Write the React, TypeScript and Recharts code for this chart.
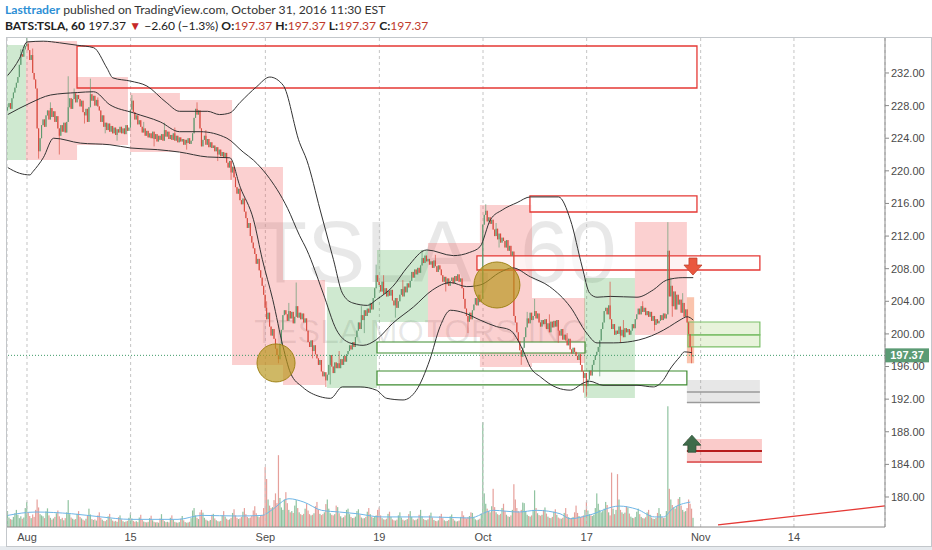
import React from 'react'
import {
  ComposedChart,
  Bar,
  Line,
  XAxis,
  YAxis,
  CartesianGrid,
  ReferenceArea,
  ReferenceLine,
  ReferenceDot
} from 'recharts'

// hourly bars, index 0 = Jul 28 10:30, 7 bars per session
const X_DOMAIN: [number, number] = [-0.5, 592.5]
const Y_DOMAIN: [number, number] = [176.32, 236.29]
const VOL_DOMAIN: [number, number] = [0, 16000]

const dateTicks = [13, 83, 174, 251, 321, 391, 468, 531]
const dateLabels = ['Aug', '15', 'Sep', '19', 'Oct', '17', 'Nov', '14']
const priceTicks = [180, 184, 188, 192, 196, 200, 204, 208, 212, 216, 220, 224, 228, 232]

const lastPrice = 197.37
const firstOpen = 227.4

const closes = [
  227.8, 228.3, 227.6, 228.9, 229.6, 230.2, // Jul 28
  230.8, 231.5, 233.0, 234.3, 234.0, 234.9, 235.3, // Jul 29
  235.6, 234.8, 233.6, 234.2, 232.0, 231.2, 230.1, // Aug 1
  225.2, 222.4, 224.0, 225.6, 226.3, 225.4, 226.8,
  227.4, 226.3, 227.7, 226.6, 227.3, 226.0, 226.7,
  225.2, 224.3, 225.6, 224.8, 225.9, 224.7, 226.0,
  227.8, 228.9, 227.6, 228.8, 229.5, 228.4, 229.3,
  228.8, 227.9, 228.6, 227.2, 226.8, 227.6, 226.0, // Aug 8
  227.8, 229.4, 228.6, 229.2, 228.0, 228.7, 227.9,
  227.4, 226.0, 226.8, 225.4, 225.9, 225.0, 225.8,
  224.8, 225.5, 224.6, 225.3, 224.4, 225.1, 224.7,
  225.4, 224.6, 225.2, 224.5, 225.6, 224.9, 225.3,
  227.5, 228.6, 227.2, 226.3, 226.8, 225.7, 226.2, // Aug 15
  225.4, 224.7, 225.2, 224.3, 224.9, 224.1, 224.6,
  224.0, 224.8, 223.9, 224.5, 223.6, 224.3, 223.8,
  224.5, 223.7, 225.0, 224.2, 224.8, 223.9, 224.4,
  223.8, 224.6, 223.7, 224.3, 223.5, 224.1, 223.6,
  223.9, 223.2, 223.8, 223.4, 224.0, 223.3, 223.7, // Aug 22
  224.6, 226.5, 227.6, 226.9, 227.4, 225.2, 223.0,
  223.8, 224.3, 223.2, 223.9, 222.9, 223.5, 222.8,
  223.1, 222.4, 222.9, 222.0, 222.6, 221.8, 222.3,
  221.6, 222.2, 221.0, 220.4, 221.2, 219.8, 220.5,
  219.2, 218.0, 217.2, 217.8, 216.4, 215.9, 216.6, // Aug 29
  215.0, 214.2, 213.0, 213.6, 212.0, 211.2, 210.5,
  209.8, 208.6, 209.2, 207.8, 206.9, 205.9, 204.8,
  203.2, 201.8, 202.6, 200.9, 199.8, 200.6, 199.4, // Sep 1
  198.2, 197.4, 196.9, 198.8, 200.5, 202.3, 202.9,
  202.4, 201.6, 202.8, 201.9, 202.7, 201.3, 202.1, // Sep 6
  203.4, 202.0, 202.6, 201.8, 202.5, 201.4, 201.9,
  200.4, 199.0, 198.4, 199.2, 197.9, 198.6, 197.5,
  197.0, 196.2, 196.8, 195.4, 194.8, 195.3, 194.3,
  195.0, 196.2, 197.4, 196.0, 195.2, 196.5, 195.8, // Sep 12
  196.4, 195.8, 196.9, 196.2, 197.3, 196.6, 197.5,
  197.9, 198.6, 198.1, 199.0, 198.4, 199.6, 200.4,
  201.4, 200.6, 202.3, 201.7, 202.9, 202.2, 203.1,
  202.6, 203.8, 203.0, 204.4, 205.6, 207.2, 206.4,
  206.0, 205.2, 206.4, 204.9, 205.6, 204.6, 205.3, // Sep 19
  204.7, 205.4, 204.1, 203.5, 204.4, 203.2, 204.0,
  204.8, 205.5, 204.6, 205.8, 205.1, 206.2, 205.7,
  206.5, 207.6, 206.9, 207.9, 207.3, 208.1, 207.5,
  208.4, 209.3, 208.7, 209.6, 208.9, 209.2, 208.5,
  208.9, 208.1, 209.0, 208.3, 207.6, 208.4, 207.9, // Sep 26
  207.2, 206.4, 207.0, 206.1, 206.8, 205.9, 206.5,
  206.9, 206.2, 207.1, 206.5, 207.3, 206.4, 206.8,
  205.6, 204.3, 203.1, 202.2, 201.5, 202.6, 201.8,
  202.9, 203.6, 204.4, 203.5, 204.8, 203.9, 204.3,
  213.4, 214.6, 215.1, 213.8, 214.3, 213.5, 214.0, // Oct 3
  212.8, 212.0, 212.9, 211.6, 212.3, 211.2, 211.8,
  211.4, 210.6, 211.5, 210.2, 210.8, 209.6, 210.1,
  202.2, 201.4, 200.2, 199.1, 198.0, 197.2, 198.3,
  199.6, 200.8, 201.9, 201.3, 202.6, 201.7, 202.2,
  202.8, 201.9, 202.5, 201.4, 200.9, 201.7, 201.2, // Oct 10
  201.8, 200.6, 201.3, 200.2, 201.5, 200.8, 201.6,
  200.9, 201.7, 200.4, 199.8, 200.6, 199.3, 199.9,
  199.2, 198.6, 199.4, 198.1, 197.6, 198.3, 197.8,
  197.3, 196.8, 197.5, 196.2, 195.4, 194.6, 195.2,
  193.6, 194.4, 195.5, 194.9, 196.2, 196.8, 197.4, // Oct 17
  197.8, 198.4, 199.2, 200.6, 201.4, 202.8, 203.2,
  202.4, 203.5, 201.8, 200.6, 201.2, 199.9, 200.4,
  200.0, 200.9, 199.8, 200.5, 199.6, 200.7, 200.2,
  200.6, 199.9, 200.4, 201.2, 200.7, 201.8, 202.4,
  203.1, 202.4, 203.4, 202.7, 203.2, 202.3, 202.8, // Oct 24
  202.1, 202.7, 201.6, 202.2, 201.1, 201.8, 201.3,
  201.6, 202.3, 201.7, 202.5, 201.9, 202.4, 210.2,
  204.6, 205.9, 203.4, 205.2, 203.0, 204.8, 203.6,
  204.2, 202.6, 203.8, 202.1, 203.0, 201.4, 199.97,
  198.4, 197.37, 197.37 // Oct 31
]

// bars whose wick reaches beyond the body: [bar, price]
const highWicks: [number, number][] = [
  [9, 234.9], [13, 236.3], [17, 235.0], [29, 228.4], [41, 231.6], [45, 230.1], [56, 231.3],
  [61, 229.0], [84, 229.3], [92, 226.0], [106, 225.9], [113, 225.3], [128, 228.4], [134, 225.0],
  [175, 204.0], [190, 203.8], [195, 206.3], [224, 197.9], [239, 203.4], [249, 208.5], [254, 207.2],
  [267, 206.6], [280, 210.3], [289, 209.7], [323, 215.9], [330, 213.6], [351, 202.7], [356, 204.3],
  [366, 202.4], [378, 200.1], [407, 206.4], [416, 201.7], [429, 204.0], [446, 213.7], [448, 206.9],
  [456, 205.0]
]
const lowWicks: [number, number][] = [
  [21, 221.5], [35, 222.0], [52, 225.8], [66, 224.6], [74, 223.7], [99, 223.0], [121, 222.6],
  [142, 221.2], [151, 218.9], [183, 196.4], [206, 197.0], [215, 193.5], [218, 193.8], [241, 200.1],
  [262, 202.0], [296, 205.2], [311, 200.1], [332, 210.6], [347, 196.2], [372, 198.9], [389, 192.8],
  [391, 192.3], [400, 194.8], [414, 198.9], [437, 200.4], [449, 202.1], [462, 196.4]
]

// volume per bar, thousands of shares
const volumes = [
  520, 310, 260, 240, 330, 450,
  560, 400, 290, 350, 270, 310, 620,
  820, 480, 360, 290, 410, 330, 560,
  900, 640, 420, 380, 350, 290, 510,
  610, 380, 300, 240, 280, 330, 450,
  540, 350, 260, 300, 220, 290, 480,
  880, 420, 310, 270, 240, 260, 430,
  520, 330, 280, 240, 210, 270, 390,
  600, 410, 260, 230, 250, 210, 380,
  480, 300, 240, 200, 190, 230, 350,
  430, 270, 210, 180, 200, 170, 320,
  380, 250, 190, 160, 180, 200, 300,
  450, 280, 200, 170, 190, 160, 310,
  400, 240, 180, 160, 150, 170, 290,
  370, 220, 170, 150, 160, 140, 280,
  420, 260, 190, 160, 170, 150, 300,
  380, 230, 170, 150, 140, 160, 270,
  360, 220, 160, 140, 150, 170, 290,
  540, 620, 380, 300, 260, 480, 560,
  470, 300, 240, 210, 190, 230, 400,
  430, 280, 220, 190, 180, 200, 380,
  520, 340, 270, 230, 250, 300, 460,
  580, 380, 300, 260, 280, 330, 500,
  620, 420, 330, 290, 310, 360, 540,
  680, 450, 350, 320, 380, 400, 620,
  1960, 1570, 900, 700, 620, 650, 880,
  1100, 780, 2350, 950, 640, 560, 900,
  1140, 780, 560, 480, 520, 460, 700,
  880, 620, 480, 420, 390, 430, 600,
  760, 540, 420, 380, 400, 450, 680,
  820, 560, 430, 390, 420, 480, 750,
  900, 600, 450, 400, 380, 420, 700,
  650, 450, 350, 300, 320, 380, 560,
  600, 420, 330, 290, 300, 340, 520,
  580, 400, 310, 280, 290, 330, 500,
  620, 420, 330, 300, 350, 380, 560,
  640, 380, 290, 250, 240, 270, 430,
  500, 330, 250, 220, 210, 240, 380,
  480, 310, 240, 210, 230, 260, 420,
  520, 330, 250, 220, 240, 270, 400,
  560, 350, 260, 230, 220, 250, 380,
  470, 310, 230, 200, 190, 220, 360,
  430, 290, 220, 190, 200, 230, 350,
  410, 270, 210, 180, 190, 210, 330,
  520, 380, 300, 280, 320, 360, 480,
  460, 320, 250, 220, 240, 270, 440,
  3430, 1100, 760, 600, 520, 480, 680,
  1250, 650, 480, 420, 390, 430, 620,
  760, 520, 400, 350, 330, 380, 560,
  1400, 900, 620, 520, 480, 560, 800,
  780, 520, 400, 360, 340, 380, 560,
  1200, 620, 450, 390, 370, 400, 560,
  640, 440, 340, 300, 290, 330, 500,
  580, 400, 310, 280, 270, 300, 460,
  620, 420, 320, 290, 300, 330, 480,
  700, 460, 360, 320, 340, 380, 560,
  820, 540, 420, 380, 360, 400, 620,
  1100, 760, 560, 480, 520, 600, 820,
  720, 480, 380, 1780, 600, 420, 560,
  1730, 900, 560, 480, 430, 470, 680,
  640, 440, 340, 300, 290, 330, 500,
  600, 420, 330, 290, 280, 320, 480,
  560, 400, 310, 270, 260, 300, 460,
  620, 420, 330, 290, 300, 520, 3950,
  1250, 900, 720, 640, 600, 680, 920,
  980, 700, 560, 500, 520, 620, 900,
  760, 600, 300
]

// bands: [bar, price]
const upperBand: [number, number][] = [
  [0, 231.7], [8, 233.8], [13, 235.8], [24, 235.9], [35, 235.7], [47, 235.4], [58, 235.1],
  [67, 232.6], [71, 231.4], [83, 231.0], [94, 230.4], [107, 228.4], [116, 227.3], [135, 227.3],
  [143, 226.9], [150, 227.1], [157, 228.4], [168, 230.3], [177, 231.5], [186, 230.5], [197, 223.5],
  [202, 221.3], [211, 215.2], [220, 209.1], [226, 205.0], [233, 203.8], [243, 203.5], [249, 204.2],
  [260, 205.8], [270, 208.2], [283, 210.3], [301, 209.6], [312, 210.0], [319, 210.7], [326, 214.0],
  [334, 215.2], [344, 216.1], [353, 216.8], [372, 216.8], [380, 214.0], [388, 208.2], [393, 205.0],
  [398, 204.5], [407, 204.6], [425, 204.5], [436, 205.4], [445, 206.6], [456, 206.9], [463, 206.9]
]
const middleBand: [number, number][] = [
  [0, 226.9], [15, 228.3], [29, 229.3], [47, 229.6], [58, 229.7], [69, 228.1], [85, 227.1],
  [103, 226.0], [116, 224.8], [130, 224.8], [148, 224.0], [159, 222.3], [166, 221.3], [175, 219.5],
  [189, 215.4], [197, 212.1], [202, 210.3], [213, 205.0], [222, 200.5], [231, 198.9], [240, 198.6],
  [249, 199.3], [260, 201.3], [274, 203.3], [287, 205.4], [299, 206.3], [310, 205.8], [319, 206.0],
  [333, 207.6], [341, 208.1], [353, 207.0], [366, 205.8], [380, 203.3], [391, 200.1], [398, 198.9],
  [409, 198.9], [422, 199.1], [439, 200.1], [447, 200.9], [454, 201.7], [459, 202.1], [463, 201.7]
]
const lowerBand: [number, number][] = [
  [0, 220.4], [8, 219.7], [15, 219.5], [17, 219.9], [24, 221.6], [31, 224.0], [49, 223.4],
  [69, 223.2], [83, 222.8], [101, 222.6], [116, 222.3], [135, 221.7], [150, 221.6], [157, 218.0],
  [166, 214.0], [172, 209.1], [179, 204.2], [186, 198.4], [191, 195.2], [199, 193.5], [211, 192.3],
  [218, 192.1], [226, 193.5], [238, 193.5], [249, 193.1], [256, 192.1], [267, 191.9], [276, 193.1],
  [285, 196.8], [292, 200.9], [299, 202.9], [308, 202.6], [319, 201.7], [330, 200.9], [339, 200.5],
  [348, 198.0], [353, 195.9], [360, 194.7], [371, 193.4], [380, 193.1], [389, 194.0], [393, 194.2],
  [402, 193.7], [425, 193.7], [436, 193.5], [443, 194.4], [447, 195.6], [454, 197.2], [457, 197.8],
  [462, 197.7]
]
const volumeAverage: [number, number][] = [
  [0, 380], [19, 490], [43, 435], [63, 330], [83, 250], [115, 250], [131, 380], [155, 360],
  [172, 380], [178, 545], [190, 925], [200, 815], [212, 545], [224, 490], [236, 435], [252, 330],
  [284, 330], [312, 295], [328, 545], [345, 490], [357, 545], [373, 435], [380, 270], [392, 380],
  [413, 685], [425, 580], [437, 330], [443, 330], [449, 600], [461, 815]
]

// drawn zones: [fromBar, toBar, topPrice, bottomPrice]
const greenZones = [
  [-0.5, 12.3, 235.43, 221.33],
  [215.6, 249.4, 205.76, 193.37],
  [249.4, 283.8, 210.29, 201.46],
  [389.2, 423.6, 206.86, 192.14]
]
const pinkZones = [
  [12.3, 46.8, 235.92, 221.33],
  [46.8, 81.2, 231.51, 223.17],
  [82.6, 116.3, 229.55, 222.31],
  [116.3, 151.5, 228.69, 218.88],
  [151.5, 185.9, 220.47, 196.19],
  [185.9, 214.3, 206.61, 193.74],
  [283.8, 318.9, 211.15, 199.62],
  [318.9, 354.1, 215.81, 195.94],
  [354.1, 389.9, 204.41, 196.44],
  [423.6, 458.7, 213.73, 199.87]
]
const redBoxes = [
  [46.8, 465.5, 235.31, 230.16],
  [352.7, 465.5, 216.92, 214.95],
  [316.9, 508.0, 209.56, 207.84]
]
const greenBoxes = [
  [249.4, 389.9, 199.01, 197.66],
  [249.4, 458.7, 195.45, 193.74]
]
const targetBoxes = [
  [459.4, 508.0, 201.46, 199.87],
  [459.4, 508.0, 199.87, 198.4]
]
const greyBox = [458.7, 508.0, 194.35, 191.53]
const greyLevels = [192.88, 191.6]
const stopBox = [458.7, 509.4, 187.11, 184.17]
const stopLevels = [185.64, 184.29]
const lastBarBox = [458.7, 463.6, 204.5, 196.4]
const circles = [
  [181.2, 196.44, 19],
  [330.4, 206.0, 23]
]
const downArrowAt = [462.8, 208.2]
const upArrowAt = [462.1, 186.6]
const trendLine = [[479.7, 176.57], [592.5, 178.9]]

const UP = '#5f9a70'
const DOWN = '#d84b3f'
const AXIS_FONT = '"Liberation Sans", Arial, sans-serif'

type Row = {
  i: number
  o?: number
  h?: number
  l?: number
  c?: number
  range?: [number, number]
  vol?: number
  up?: boolean
  bbUp?: number
  bbMid?: number
  bbLow?: number
  vma?: number
}

const highMap = new Map(highWicks)
const lowMap = new Map(lowWicks)
const rows: Row[] = Array.from({ length: 593 }, (_, i) => ({ i }))
closes.forEach((c, i) => {
  const o = i === 0 ? firstOpen : closes[i - 1]
  const h = Math.max(o, c, highMap.get(i) ?? -Infinity)
  const l = Math.min(o, c, lowMap.get(i) ?? Infinity)
  Object.assign(rows[i], { o, h, l, c, range: [l, h], vol: volumes[i], up: c >= o })
})
upperBand.forEach(([i, v]) => (rows[i].bbUp = v))
middleBand.forEach(([i, v]) => (rows[i].bbMid = v))
lowerBand.forEach(([i, v]) => (rows[i].bbLow = v))
volumeAverage.forEach(([i, v]) => (rows[i].vma = v))

const Candle = (props: any) => {
  const { x, y, width, height, payload } = props
  if (!payload || payload.c == null) return null
  const { o, h, l, c } = payload
  const cx = x + width / 2
  const top = Math.min(y, y + height)
  const bottom = Math.max(y, y + height)
  const span = h - l
  const py = (v: number) => (span > 0 ? top + ((h - v) / span) * (bottom - top) : top)
  const color = c >= o ? UP : DOWN
  const bodyTop = py(Math.max(o, c))
  const bodyBottom = py(Math.min(o, c))
  return (
    <g>
      <line x1={cx} x2={cx} y1={top} y2={Math.max(bottom, top + 1)} stroke={color} strokeWidth={0.8} strokeOpacity={0.85} />
      <rect x={cx - 0.55} y={bodyTop} width={1.1} height={Math.max(bodyBottom - bodyTop, 1)} fill={color} />
    </g>
  )
}

const VolumeBar = (props: any) => {
  const { x, y, width, height, payload } = props
  if (!payload || payload.vol == null) return null
  const cx = x + width / 2
  return (
    <rect
      x={cx - 0.6}
      y={Math.min(y, y + height)}
      width={1.2}
      height={Math.abs(height)}
      fill={payload.up ? 'rgba(96,170,120,0.7)' : 'rgba(214,96,88,0.6)'}
    />
  )
}

const PriceTag = (props: any) => {
  const vb = props.viewBox
  if (!vb) return null
  const x = vb.x + vb.width
  const y = vb.y
  return (
    <g>
      <rect x={x} y={y - 7} width={44} height={14} fill="#5b9b74" />
      <text x={x + 22} y={y + 4} textAnchor="middle" fill="#fff" fontSize={11} fontWeight={700} fontFamily={AXIS_FONT}>
        {lastPrice.toFixed(2)}
      </text>
    </g>
  )
}

const DownArrow = ({ cx, cy }: any) => (
  <path
    d={`M${cx - 4},${cy - 9} h8 v7 h5 l-9,10 l-9,-10 h5 z`}
    fill="#e9573f"
    stroke="#c2402c"
    strokeWidth={0.8}
  />
)

const UpArrow = ({ cx, cy }: any) => (
  <path
    d={`M${cx - 4},${cy + 9} h8 v-7 h5 l-9,-10 l-9,10 h5 z`}
    fill="#3f6b4a"
    stroke="#2c5237"
    strokeWidth={0.8}
  />
)

const area = (z: number[], key: string, style: any) => (
  <ReferenceArea
    key={key}
    x1={z[0]}
    x2={z[1]}
    y1={z[3]}
    y2={z[2]}
    ifOverflow="hidden"
    {...style}
  />
)

const red = { color: '#c0392b' }

export default function App() {
  return (
    <div style={{ position: 'absolute', left: 0, top: 0, width: 932, height: 550, background: '#fff', overflow: 'hidden' }}>
      <div style={{ position: 'absolute', left: 0, top: 546, width: 932, height: 4, background: '#e6eaee' }} />
      <div style={{ position: 'absolute', left: 6, top: 37, width: 924, height: 508, border: '1px solid #c3c7cb' }} />

      {/* header */}
      <div style={{ position: 'absolute', left: 5, top: 2, fontFamily: 'Lato, sans-serif', fontSize: 12.2, color: '#333', whiteSpace: 'nowrap' }}>
        <span style={{ color: '#2d8fd5', fontWeight: 700 }}>Lasttrader</span> published on TradingView.com, October 31, 2016 11:30 EST
      </div>
      <div style={{ position: 'absolute', left: 5, top: 18, fontFamily: 'Lato, sans-serif', fontSize: 12.1, color: '#222', whiteSpace: 'nowrap' }}>
        <b>BATS:TSLA, 60</b> 197.37 <span style={{ color: '#c62828', fontSize: 12 }}>▼</span> −2.60 (−1.3%) <b>O:</b>
        <span style={red}>197.37</span> <b>H:</b>
        <span style={red}>197.37</span> <b>L:</b>
        <span style={red}>197.37</span> <b>C:</b>
        <span style={red}>197.37</span>
      </div>

      {/* watermark */}
      <svg width={932} height={550} style={{ position: 'absolute', left: 0, top: 0 }}>
        <text x={254} y={282} fontSize={87} fill="#000" fillOpacity={0.09} fontFamily={AXIS_FONT}>TSLA, 60</text>
        <text x={254} y={343} fontSize={34} fill="#000" fillOpacity={0.09} fontFamily={AXIS_FONT}>TESLA MOTORS INC</text>
      </svg>

      {/* volume pane (same plot box as the price pane) */}
      <div style={{ position: 'absolute', left: 0, top: 0 }}>
        <ComposedChart width={932} height={550} data={rows} margin={{ top: 38, left: 7, right: 47, bottom: 23 }}>
          <XAxis type="number" dataKey="i" domain={X_DOMAIN} allowDataOverflow hide />
          <YAxis domain={VOL_DOMAIN} allowDataOverflow hide />
          <Bar dataKey="vol" barSize={1} shape={VolumeBar} isAnimationActive={false} />
          <Line dataKey="vma" type="monotone" stroke="#6fb6e6" strokeWidth={1} dot={false} connectNulls isAnimationActive={false} />
        </ComposedChart>
      </div>

      {/* price pane */}
      <div style={{ position: 'absolute', left: 0, top: 0 }}>
        <ComposedChart width={932} height={550} data={rows} margin={{ top: 38, left: 7, right: 0, bottom: 0 }} style={{ fontFamily: AXIS_FONT }}>
          <CartesianGrid horizontal={false} strokeDasharray="3 3" stroke="#c4c4c4" />
          <XAxis
            type="number"
            dataKey="i"
            domain={X_DOMAIN}
            allowDataOverflow
            ticks={dateTicks}
            interval={0}
            tickFormatter={(v: number) => dateLabels[dateTicks.indexOf(v)] ?? ''}
            height={23}
            tickLine={false}
            tickSize={4}
            axisLine={{ stroke: '#8a8a8a' }}
            tick={{ fill: '#4a4a4a', fontSize: 11 }}
          />
          <YAxis
            orientation="right"
            domain={Y_DOMAIN}
            allowDataOverflow
            ticks={priceTicks}
            interval={0}
            width={47}
            tickSize={4}
            tickFormatter={(v: number) => v.toFixed(2)}
            axisLine={{ stroke: '#8a8a8a' }}
            tickLine={{ stroke: '#8a8a8a' }}
            tick={{ fill: '#4a4a4a', fontSize: 11 }}
          />

          {greenZones.map((z, k) => area(z, `g${k}`, { fill: '#4caf50', fillOpacity: 0.27, stroke: 'none' }))}
          {pinkZones.map((z, k) => area(z, `p${k}`, { fill: '#ef5350', fillOpacity: 0.27, stroke: 'none' }))}
          {area(lastBarBox, 'last', { fill: '#f57c4a', fillOpacity: 0.45, stroke: 'none' })}
          {redBoxes.map((z, k) =>
            area(z, `r${k}`, { fill: '#fff', fillOpacity: k === 0 ? 0 : 0.75, stroke: '#e53935', strokeWidth: 1.3 })
          )}
          {greenBoxes.map((z, k) => area(z, `gb${k}`, { fill: '#fff', fillOpacity: 0.8, stroke: '#3d8b2f', strokeWidth: 1.2 }))}
          {targetBoxes.map((z, k) => area(z, `t${k}`, { fill: '#8bc34a', fillOpacity: 0.2, stroke: '#7cbf6a', strokeWidth: 1.2 }))}
          {area(greyBox, 'grey', { fill: '#9e9e9e', fillOpacity: 0.25, stroke: 'none' })}
          {area(stopBox, 'stop', { fill: '#ef5350', fillOpacity: 0.3, stroke: 'none' })}
          {greyLevels.map((lv, k) => (
            <ReferenceLine key={`gl${k}`} segment={[{ x: greyBox[0], y: lv }, { x: greyBox[1], y: lv }]} stroke="#9a9a9a" strokeWidth={1.5} ifOverflow="visible" />
          ))}
          {stopLevels.map((lv, k) => (
            <ReferenceLine key={`sl${k}`} segment={[{ x: stopBox[0], y: lv }, { x: stopBox[1], y: lv }]} stroke={k === 0 ? '#b71c1c' : '#d84a4a'} strokeWidth={k === 0 ? 2 : 1.5} ifOverflow="visible" />
          ))}

          <Bar dataKey="range" barSize={1} shape={Candle} isAnimationActive={false} />
          <Line dataKey="bbUp" type="monotone" stroke="#333" strokeWidth={1} dot={false} connectNulls isAnimationActive={false} />
          <Line dataKey="bbMid" type="monotone" stroke="#333" strokeWidth={1} dot={false} connectNulls isAnimationActive={false} />
          <Line dataKey="bbLow" type="monotone" stroke="#333" strokeWidth={1} dot={false} connectNulls isAnimationActive={false} />

          <ReferenceLine
            y={lastPrice}
            stroke="#3f9a67"
            strokeDasharray="1 2"
            strokeWidth={1}
            label={<PriceTag />}
          />
          <ReferenceLine
            segment={[{ x: trendLine[0][0], y: trendLine[0][1] }, { x: trendLine[1][0], y: trendLine[1][1] }]}
            stroke="#e53935"
            strokeWidth={1.3}
            ifOverflow="visible"
          />
          {circles.map((c, k) => (
            <ReferenceDot key={`c${k}`} x={c[0]} y={c[1]} r={c[2]} fill="#b8961c" fillOpacity={0.68} stroke="#a08317" strokeWidth={1} ifOverflow="visible" />
          ))}
          <ReferenceDot x={downArrowAt[0]} y={downArrowAt[1]} r={8} ifOverflow="visible" shape={(p: any) => <DownArrow cx={p.cx} cy={p.cy} />} />
          <ReferenceDot x={upArrowAt[0]} y={upArrowAt[1]} r={8} ifOverflow="visible" shape={(p: any) => <UpArrow cx={p.cx} cy={p.cy} />} />
        </ComposedChart>
      </div>
    </div>
  )
}
